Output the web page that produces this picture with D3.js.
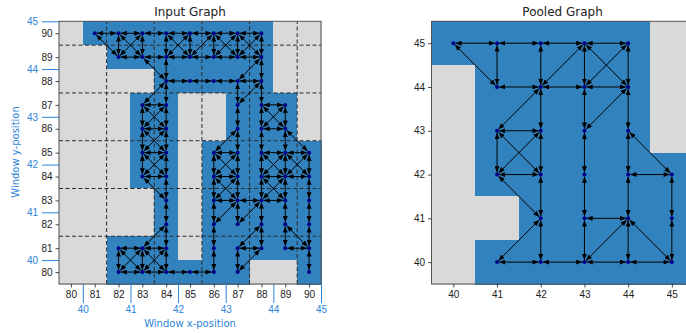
<!DOCTYPE html>
<html>
<head>
<meta charset="utf-8">
<script src="https://cdn.jsdelivr.net/npm/d3@7"></script>
<style>
  body { margin: 0; background: #fff; }
  svg { font-family: "DejaVu Sans", sans-serif; }
</style>
</head>
<body>
<div id="chart"></div>
<script>
// ---- input graph data ----
const inputXs = d3.range(80, 91);
const inputYs = d3.range(90, 79, -1);
// rows from y=90 down to y=80, columns x=80..90 (1 = occupied cell)
const inputCells = [
  [0,1,1,1,1,1,1,1,1,0,0],
  [0,0,1,1,1,1,1,1,1,0,0],
  [0,0,0,0,1,1,1,1,1,0,0],
  [0,0,0,1,1,0,0,1,1,1,0],
  [0,0,0,1,1,0,0,1,1,1,0],
  [0,0,0,1,1,0,1,1,1,1,1],
  [0,0,0,1,1,0,1,1,1,1,1],
  [0,0,0,0,1,0,1,1,1,1,1],
  [0,0,0,0,1,0,1,1,1,1,1],
  [0,0,1,1,1,0,1,1,1,1,1],
  [0,0,1,1,1,1,1,1,0,0,1]
];
// [y, xs]
const inputNodeRows = [
  [90, [81,82,83,84,85,86,87,88]],
  [89, [82,83,84,85,86,87,88]],
  [88, [84,85,86,87,88]],
  [87, [83,84,87,88,89]],
  [86, [83,84,87,88,89]],
  [85, [83,84,86,87,88,89,90]],
  [84, [83,84,86,87,88,89,90]],
  [83, [84,86,87,88,89,90]],
  [82, [84,86,87,88,89,90]],
  [81, [82,83,84,86,87,88,89,90]],
  [80, [82,83,84,85,86,87,90]]
];
// [x1, y1, x2, y2], drawn both ways
const inputEdges = [
  [81,90,82,90],[82,90,83,90],[83,90,84,90],[84,90,85,90],[85,90,86,90],[86,90,87,90],[87,90,88,90],
  [82,89,83,89],[83,89,84,89],[84,89,85,89],[85,89,86,89],[86,89,87,89],[87,89,88,89],
  [82,90,82,89],[83,90,83,89],[84,90,84,89],[85,90,85,89],[86,90,86,89],[87,90,87,89],[88,90,88,89],
  [81,90,82,89],[82,90,83,89],[83,90,82,89],[84,90,85,89],[85,90,84,89],[86,90,85,89],
  [86,90,87,89],[87,90,86,89],[87,90,88,89],[88,90,87,89],
  [83,89,84,88],[84,89,84,88],[88,89,87,88],[88,89,88,88],
  [84,88,85,88],[85,88,86,88],[86,88,87,88],[87,88,88,88],
  [84,88,83,87],[84,88,84,87],[87,88,87,87],[88,88,87,87],[88,88,88,87],
  [83,87,84,87],[83,86,84,86],[83,85,84,85],[83,84,84,84],
  [83,87,83,86],[84,87,84,86],[83,87,84,86],[84,87,83,86],
  [83,86,83,85],[84,86,84,85],[83,86,84,85],[84,86,83,85],
  [83,85,83,84],[84,85,84,84],[83,85,84,84],[84,85,83,84],
  [88,87,89,87],[88,86,89,86],[88,87,88,86],[89,87,89,86],[88,87,89,86],[89,87,88,86],
  [87,87,87,86],
  [87,86,86,85],[87,86,87,85],[88,86,88,85],[89,86,89,85],[89,86,90,85],
  [86,85,87,85],[86,84,87,84],[86,85,86,84],[87,85,87,84],[86,85,87,84],[87,85,86,84],
  [88,85,89,85],[89,85,90,85],[88,84,89,84],[89,84,90,84],[88,85,88,84],[89,85,89,84],[90,85,90,84],
  [88,85,89,84],[89,85,88,84],[89,85,90,84],[90,85,89,84],
  [86,84,86,83],[87,84,87,83],[86,84,87,83],[87,84,86,83],
  [88,84,88,83],[89,84,89,83],[88,84,89,83],[89,84,88,83],[90,84,90,83],
  [84,84,84,83],[83,84,84,83],
  [86,83,87,83],[87,83,88,83],[88,83,89,83],
  [86,83,86,82],[87,83,87,82],[88,83,88,82],[89,83,89,82],[90,83,90,82],[87,83,86,82],[88,83,87,82],[84,83,84,82],
  [86,82,86,81],[88,82,88,81],[89,82,89,81],[90,82,90,81],[87,81,88,82],[89,82,90,81],[84,82,83,81],[84,82,84,81],
  [82,81,83,81],[83,81,84,81],[87,81,88,81],[89,81,90,81],
  [82,81,82,80],[83,81,83,80],[84,81,84,80],[82,81,83,80],[83,81,82,80],[83,81,84,80],[84,81,83,80],
  [86,81,86,80],[87,81,87,80],[90,81,90,80],[87,80,88,81],
  [82,80,83,80],[83,80,84,80],[84,80,85,80],[85,80,86,80]
];
const windowLines = [81.5, 83.5, 85.5, 87.5, 89.5];
const windowTicks = [40, 41, 42, 43, 44, 45];

// ---- pooled graph data ----
const pooledXs = d3.range(40, 46);
const pooledYs = d3.range(45, 39, -1);
// rows from y=45 down to y=40, columns x=40..45
const pooledCells = [
  [1,1,1,1,1,0],
  [0,1,1,1,1,0],
  [0,1,1,1,1,0],
  [0,1,1,1,1,1],
  [0,0,1,1,1,1],
  [0,1,1,1,1,1]
];
const pooledNodeRows = [
  [45, [40,41,42,43,44]],
  [44, [41,42,43,44]],
  [43, [41,42,43,44]],
  [42, [41,42,43,44,45]],
  [41, [42,43,44,45]],
  [40, [41,42,43,44,45]]
];
const pooledEdges = [
  [40,45,41,45],[41,45,42,45],[42,45,43,45],[43,45,44,45],
  [40,45,41,44],[41,45,41,44],[42,45,42,44],[43,45,42,44],[43,45,43,44],[43,45,44,44],[44,45,43,44],[44,45,44,44],
  [41,44,42,44],[42,44,43,44],[43,44,44,44],
  [42,44,41,43],[42,44,42,43],[43,44,43,43],[44,44,43,43],[44,44,44,43],
  [41,43,42,43],
  [41,43,42,42],[42,43,41,42],[41,43,41,42],[42,43,42,42],[43,43,43,42],[44,43,44,42],[44,43,45,42],
  [41,42,42,42],[44,42,45,42],
  [41,42,42,41],[42,42,42,41],[43,42,43,41],[44,42,44,41],[45,42,45,41],
  [43,41,44,41],
  [42,41,41,40],[42,41,42,40],[43,41,43,40],[43,40,44,41],[44,41,44,40],[44,41,45,40],[45,41,45,40],
  [41,40,42,40],[42,40,43,40],[43,40,44,40],[44,40,45,40]
];

const cellOn = '#3182bd', cellOff = '#d9d9d9', nodeColor = '#00008b';
const axisBlue = '#2b83da', textColor = '#222';
const intFmt = d3.format('d');

const svg = d3.select('#chart').append('svg')
  .attr('width', 686)
  .attr('height', 333);

svg.append('defs').append('marker')
  .attr('id', 'arrow')
  .attr('viewBox', '0 0 10 8')
  .attr('refX', 10)
  .attr('refY', 4)
  .attr('markerUnits', 'userSpaceOnUse')
  .attr('markerWidth', 6.5)
  .attr('markerHeight', 5)
  .attr('orient', 'auto-start-reverse')
  .append('path')
  .attr('d', 'M0,0L10,4L0,8z')
  .attr('fill', '#000');

function drawPanel(p) {
  const g = svg.append('g');
  const x = p.x, y = p.y;
  const [x0, x1] = x.range(), [y0, y1] = y.range();

  // cells
  const cells = [];
  p.cells.forEach((row, i) => row.forEach((v, j) => cells.push({ cx: p.xs[j], cy: p.ys[i], v })));
  g.selectAll('.cell')
    .data(cells)
    .enter()
    .append('rect')
    .attr('class', 'cell')
    .attr('x', d => x(d.cx - 0.5))
    .attr('y', d => y(d.cy + 0.5))
    .attr('width', d => x(d.cx + 0.5) - x(d.cx - 0.5) + 0.5)
    .attr('height', d => y(d.cy - 0.5) - y(d.cy + 0.5) + 0.5)
    .attr('shape-rendering', 'crispEdges')
    .attr('fill', d => d.v ? cellOn : cellOff);

  // window boundaries
  if (p.windowLines) {
    p.windowLines.forEach(v => {
      g.append('line').attr('x1', x(v)).attr('x2', x(v)).attr('y1', y0).attr('y2', y1)
        .attr('stroke', '#2b2b2b').attr('stroke-width', 1).attr('stroke-dasharray', '4,2.5');
      g.append('line').attr('x1', x0).attr('x2', x1).attr('y1', y(v)).attr('y2', y(v))
        .attr('stroke', '#2b2b2b').attr('stroke-width', 1).attr('stroke-dasharray', '4,2.5');
    });
  }

  // edges, shortened so arrow tips stop at the node marker
  const gap = 2;
  g.selectAll('.edge')
    .data(p.edges)
    .enter()
    .append('line')
    .attr('class', 'edge')
    .each(function(e) {
      const ax = x(e[0]), ay = y(e[1]), bx = x(e[2]), by = y(e[3]);
      const len = Math.hypot(bx - ax, by - ay), ux = (bx - ax) / len, uy = (by - ay) / len;
      d3.select(this)
        .attr('x1', ax + ux * gap).attr('y1', ay + uy * gap)
        .attr('x2', bx - ux * gap).attr('y2', by - uy * gap);
    })
    .attr('stroke', '#000')
    .attr('stroke-width', 1)
    .attr('marker-start', 'url(#arrow)')
    .attr('marker-end', 'url(#arrow)');

  // nodes
  const nodes = [];
  p.nodeRows.forEach(([ny, xs]) => xs.forEach(nx => nodes.push([nx, ny])));
  g.selectAll('.node')
    .data(nodes)
    .enter()
    .append('circle')
    .attr('class', 'node')
    .attr('cx', d => x(d[0]))
    .attr('cy', d => y(d[1]))
    .attr('r', 2)
    .attr('fill', nodeColor);

  // frame
  g.append('rect')
    .attr('x', x0).attr('y', y1).attr('width', x1 - x0).attr('height', y0 - y1)
    .attr('fill', 'none').attr('stroke', '#555').attr('stroke-width', 1);

  // axes
  const xAxis = g.append('g')
    .attr('transform', `translate(0, ${y0})`)
    .call(d3.axisBottom(x).tickValues(p.xs).tickFormat(intFmt).tickSize(3.5).tickPadding(3.5).tickSizeOuter(0));
  const yAxis = g.append('g')
    .attr('transform', `translate(${x0}, 0)`)
    .call(d3.axisLeft(y).tickValues(p.ys).tickFormat(intFmt).tickSize(3.5).tickPadding(3).tickSizeOuter(0));
  [xAxis, yAxis].forEach(a => {
    a.select('.domain').remove();
    a.selectAll('line').attr('stroke', textColor).attr('stroke-width', 0.8);
    a.selectAll('text').attr('fill', textColor).style('font-size', '10px');
  });

  g.append('text')
    .attr('x', (x0 + x1) / 2)
    .attr('y', 15.5)
    .attr('text-anchor', 'middle')
    .attr('fill', textColor)
    .style('font-size', '12px')
    .text(p.title);
  return g;
}

// input panel
const xIn = d3.scaleLinear().domain([79.5, 90.5]).range([59, 321]);
const yIn = d3.scaleLinear().domain([79.5, 90.5]).range([284, 21.3]);
const gIn = drawPanel({
  title: 'Input Graph', x: xIn, y: yIn, xs: inputXs, ys: inputYs,
  cells: inputCells, nodeRows: inputNodeRows, edges: inputEdges, windowLines
});

// window axes on the input panel
const xWin = d3.scaleLinear().domain([40, 45]).range([xIn(80.5), xIn(90.5)]);
const yWin = d3.scaleLinear().domain([40, 45]).range([yIn(80.5), yIn(90.5)]);
const xWinAxis = gIn.append('g')
  .attr('transform', `translate(0, ${yIn.range()[0]})`)
  .call(d3.axisBottom(xWin).tickValues(windowTicks).tickFormat(intFmt).tickSize(19).tickPadding(3).tickSizeOuter(0));
const yWinAxis = gIn.append('g')
  .attr('transform', `translate(${xIn.range()[0]}, 0)`)
  .call(d3.axisLeft(yWin).tickValues(windowTicks).tickFormat(intFmt).tickSize(17).tickPadding(4).tickSizeOuter(0));
[xWinAxis, yWinAxis].forEach(a => {
  a.select('.domain').remove();
  a.selectAll('line').attr('stroke', axisBlue).attr('stroke-width', 1);
  a.selectAll('text').attr('fill', axisBlue).style('font-size', '10px');
});
gIn.append('text')
  .attr('x', 190).attr('y', 327)
  .attr('text-anchor', 'middle')
  .attr('fill', axisBlue)
  .style('font-size', '10px')
  .text('Window x-position');
gIn.append('text')
  .attr('transform', 'translate(18.5, 152) rotate(-90)')
  .attr('text-anchor', 'middle')
  .attr('fill', axisBlue)
  .style('font-size', '10px')
  .text('Window y-position');

// pooled panel
const xPool = d3.scaleLinear().domain([39.5, 45.5]).range([431.5, 693.7]);
const yPool = d3.scaleLinear().domain([39.5, 45.5]).range([284, 21.3]);
drawPanel({
  title: 'Pooled Graph', x: xPool, y: yPool, xs: pooledXs, ys: pooledYs,
  cells: pooledCells, nodeRows: pooledNodeRows, edges: pooledEdges
});
</script>
</body>
</html>
